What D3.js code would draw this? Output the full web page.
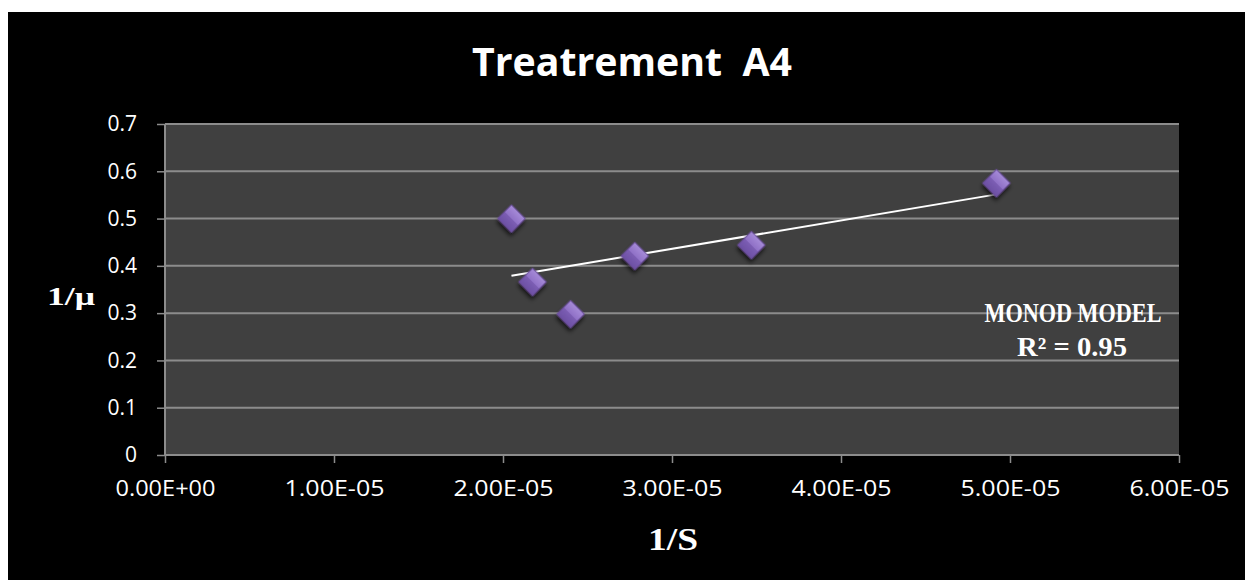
<!DOCTYPE html>
<html>
<head>
<meta charset="utf-8">
<script src="https://cdn.jsdelivr.net/npm/d3@7"></script>
<style>
  html, body { margin: 0; padding: 0; background: #ffffff; }
  svg { display: block; }
  text { white-space: pre; }
</style>
</head>
<body>
<script>
// ---- Data ----
const chartTitle = "Treatrement  A4";
const xAxisTitle = "1/S";
const yAxisTitle = "1/\u03BC";
const modelLabel = "MONOD MODEL";
const r2Label = "R\u00B2 = 0.95";

const xValues = [2.05e-5, 2.175e-5, 2.40e-5, 2.78e-5, 3.47e-5, 4.92e-5];
const yValues = [0.50, 0.366, 0.298, 0.421, 0.444, 0.575];

const xTickValues = [0, 1e-5, 2e-5, 3e-5, 4e-5, 5e-5, 6e-5];
const xTickLabels = ["0.00E+00", "1.00E-05", "2.00E-05", "3.00E-05", "4.00E-05", "5.00E-05", "6.00E-05"];
const yTickValues = [0, 0.1, 0.2, 0.3, 0.4, 0.5, 0.6, 0.7];
const yTickLabels = ["0", "0.1", "0.2", "0.3", "0.4", "0.5", "0.6", "0.7"];

// ---- Layout ----
const W = 1245, H = 580;
const plot = { left: 165, right: 1179, top: 124, bottom: 455 };

const svg = d3.select("body").append("svg").attr("width", W).attr("height", H);

const defs = svg.append("defs");
const grad = defs.append("linearGradient").attr("id", "dgrad")
  .attr("x1", "0").attr("y1", "0").attr("x2", "0").attr("y2", "1");
grad.append("stop").attr("offset", "0%").attr("stop-color", "#a68bd8");
grad.append("stop").attr("offset", "50%").attr("stop-color", "#8f70c6");
grad.append("stop").attr("offset", "50%").attr("stop-color", "#7c5eb4");
grad.append("stop").attr("offset", "100%").attr("stop-color", "#6c4fa3");
const shadow = defs.append("filter").attr("id", "shadow")
  .attr("x", "-50%").attr("y", "-50%").attr("width", "200%").attr("height", "200%");
shadow.append("feDropShadow").attr("dx", 2).attr("dy", 3).attr("stdDeviation", 2)
  .attr("flood-color", "#000").attr("flood-opacity", 0.7);

// Background
svg.append("rect").attr("x", 0).attr("y", 0).attr("width", W).attr("height", H).attr("fill", "#ffffff");
svg.append("rect").attr("x", 8).attr("y", 12).attr("width", W - 8).attr("height", H - 12).attr("fill", "#000000");

// Scales
const x = d3.scaleLinear().domain([0, 6e-5]).range([plot.left, plot.right]);
const y = d3.scaleLinear().domain([0, 0.7]).range([plot.bottom, plot.top]);

// Plot area
svg.append("rect")
  .attr("x", plot.left).attr("y", plot.top)
  .attr("width", plot.right - plot.left).attr("height", plot.bottom - plot.top)
  .attr("fill", "#404040");

// Gridlines
svg.append("g").selectAll("line").data(yTickValues.filter(d => d > 0)).join("line")
  .attr("x1", plot.left).attr("x2", plot.right)
  .attr("y1", d => y(d)).attr("y2", d => y(d))
  .attr("stroke", "#8c8c8c").attr("stroke-width", 2);

// Y axis
const yAxis = d3.axisLeft(y).tickValues(yTickValues)
  .tickFormat((d, i) => yTickLabels[i]).tickSize(8).tickPadding(20);
const gy = svg.append("g").attr("transform", `translate(${plot.left},0)`).call(yAxis);
gy.select(".domain").attr("stroke", "#8c8c8c").attr("stroke-width", 2).attr("d", `M0,${plot.top}V${plot.bottom}`);
gy.selectAll(".tick line").attr("stroke", "#8c8c8c").attr("stroke-width", 1.5);
gy.selectAll(".tick text").attr("fill", "#ffffff")
  .style("font-family", "'Open Sans', sans-serif").style("font-size", "21px");

// X axis
const xAxis = d3.axisBottom(x).tickValues(xTickValues)
  .tickFormat((d, i) => xTickLabels[i]).tickSize(8).tickPadding(18);
const gx = svg.append("g").attr("transform", `translate(0,${plot.bottom})`).call(xAxis);
gx.select(".domain").attr("stroke", "#8c8c8c").attr("stroke-width", 2).attr("d", `M${plot.left},0H${plot.right}`);
gx.selectAll(".tick line").attr("stroke", "#8c8c8c").attr("stroke-width", 1.5);
gx.selectAll(".tick text").attr("fill", "#ffffff")
  .style("font-family", "'Open Sans', sans-serif").style("font-size", "21px")
  .attr("textLength", 100).attr("lengthAdjust", "spacingAndGlyphs");

// Linear trendline (least squares over data)
const mx = d3.mean(xValues), my = d3.mean(yValues);
const sxy = d3.sum(xValues, (v, i) => (v - mx) * (yValues[i] - my));
const sxx = d3.sum(xValues, v => (v - mx) * (v - mx));
const slope = sxy / sxx, intercept = my - slope * mx;
const xExt = d3.extent(xValues);
const trend = xExt.map(v => [v, intercept + slope * v]);
svg.append("path")
  .attr("d", d3.line().x(d => x(d[0])).y(d => y(d[1]))(trend))
  .attr("stroke", "#ffffff").attr("stroke-width", 2).attr("fill", "none");

// Markers
const pts = xValues.map((v, i) => [v, yValues[i]]);
svg.append("g").selectAll("path").data(pts).join("path")
  .attr("d", d3.symbol().type(d3.symbolSquare).size(380))
  .attr("transform", d => `translate(${x(d[0])},${y(d[1])}) rotate(45)`)
  .attr("fill", "url(#dgrad)")
  .attr("stroke", "#6a4d9c").attr("stroke-width", 1)
  .attr("filter", "url(#shadow)");

// Title
svg.append("text")
  .attr("x", 632).attr("y", 76).attr("text-anchor", "middle")
  .attr("fill", "#ffffff")
  .style("font-family", "'Open Sans', sans-serif").style("font-weight", "bold").style("font-size", "39px")
  .attr("textLength", 320).attr("lengthAdjust", "spacingAndGlyphs")
  .text(chartTitle);

// Axis titles
svg.append("text")
  .attr("x", 673).attr("y", 550).attr("text-anchor", "middle")
  .attr("fill", "#ffffff")
  .style("font-family", "'Liberation Serif', serif").style("font-weight", "bold").style("font-size", "32px")
  .attr("textLength", 50).attr("lengthAdjust", "spacingAndGlyphs")
  .text(xAxisTitle);

svg.append("text")
  .attr("x", 71).attr("y", 305).attr("text-anchor", "middle")
  .attr("fill", "#ffffff")
  .style("font-family", "'Liberation Serif', serif").style("font-weight", "bold").style("font-size", "26px")
  .attr("textLength", 48).attr("lengthAdjust", "spacingAndGlyphs")
  .text(yAxisTitle);

// Model annotation
svg.append("text")
  .attr("x", 1073).attr("y", 322).attr("text-anchor", "middle")
  .attr("fill", "#ffffff")
  .style("font-family", "'Liberation Serif', serif").style("font-weight", "bold").style("font-size", "27px")
  .attr("textLength", 177).attr("lengthAdjust", "spacingAndGlyphs")
  .text(modelLabel);
svg.append("text")
  .attr("x", 1072).attr("y", 356).attr("text-anchor", "middle")
  .attr("fill", "#ffffff")
  .style("font-family", "'Liberation Serif', serif").style("font-weight", "bold").style("font-size", "27px")
  .attr("textLength", 110).attr("lengthAdjust", "spacingAndGlyphs")
  .text(r2Label);
</script>
</body>
</html>
